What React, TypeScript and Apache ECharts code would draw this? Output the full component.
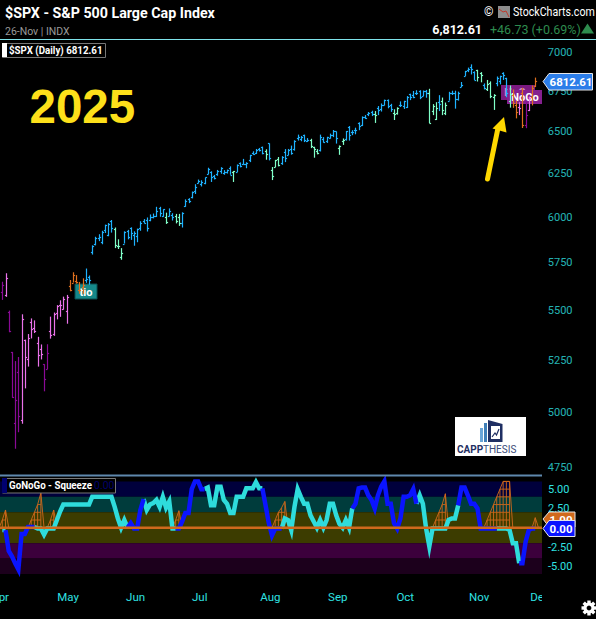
import React, { useEffect, useRef } from "react";
import * as echarts from "echarts";

// [open, high, low, close] per trading day, 1 Apr to 26 Nov
const ohlcBars: number[][] = [
[5597,5650,5555,5633],[5581,5695,5571,5671],[5492,5500,5390,5397],[5292,5292,5070,5074],[4953,5247,4835,5062],
[5193,5267,4910,4983],[4965,5481,4949,5457],[5353,5353,5115,5268],[5255,5381,5220,5363],[5442,5460,5359,5406],
[5411,5450,5386,5396],[5335,5367,5220,5276],[5305,5329,5255,5283],[5232,5232,5101,5158],[5207,5330,5207,5287],
[5395,5469,5358,5376],[5381,5490,5372,5484],[5489,5528,5455,5525],[5529,5553,5468,5529],[5508,5572,5505,5561],
[5499,5581,5433,5569],[5625,5659,5600,5604],[5645,5700,5646,5686],[5655,5685,5640,5650],[5607,5649,5587,5607],
[5620,5668,5586,5631],[5660,5720,5644,5663],[5675,5683,5634,5660],[5808,5845,5795,5844],[5851,5892,5845,5886],
[5887,5906,5868,5892],[5866,5925,5851,5917],[5930,5959,5913,5958],[5902,5968,5895,5963],[5981,5985,5915,5940],
[5935,5943,5830,5845],[5842,5878,5825,5842],[5782,5830,5767,5802],[5855,5922,5855,5921],[5925,5930,5878,5888],
[5940,5944,5875,5912],[5903,5922,5843,5912],[5897,5937,5862,5935],[5938,5978,5925,5970],[5978,5990,5966,5970],
[5985,5999,5921,5939],[5987,6016,5978,6000],[6004,6021,5994,6005],[6009,6059,6002,6038],[6050,6059,6003,6022],
[6009,6045,6003,6045],[6000,6026,5963,5976],[6005,6050,6004,6033],[6012,6023,5982,6003],[6006,6019,5966,5980],
[6004,6019,5952,5967],[5970,6028,5943,6025],[6061,6101,6059,6092],[6104,6108,6080,6092],[6112,6146,6107,6141],
[6150,6188,6132,6173],[6193,6215,6193,6205],[6187,6211,6175,6198],[6193,6227,6188,6227],[6246,6284,6246,6279],
[6259,6263,6201,6229],[6233,6242,6216,6225],[6248,6271,6237,6263],[6263,6287,6249,6280],[6256,6270,6243,6259],
[6259,6273,6250,6268],[6285,6292,6243,6243],[6260,6265,6201,6263],[6260,6303,6259,6297],[6310,6315,6286,6296],
[6305,6336,6303,6305],[6307,6316,6281,6309],[6327,6360,6317,6358],[6368,6381,6360,6363],[6370,6395,6365,6388],
[6397,6401,6380,6389],[6409,6409,6363,6370],[6381,6393,6331,6362],[6428,6428,6327,6339],[6271,6288,6212,6238],
[6287,6330,6287,6330],[6337,6347,6292,6299],[6309,6352,6301,6345],[6374,6394,6317,6340],[6358,6395,6358,6389],
[6394,6415,6361,6373],[6397,6447,6385,6445],[6461,6481,6445,6466],[6453,6473,6441,6468],[6478,6481,6436,6449],
[6445,6460,6437,6449],[6446,6456,6400,6411],[6408,6408,6343,6395],[6380,6394,6363,6370],[6388,6481,6380,6466],
[6457,6466,6433,6439],[6441,6468,6431,6465],[6461,6487,6457,6481],[6481,6509,6466,6501],[6500,6500,6427,6460],
[6401,6416,6360,6415],[6445,6458,6419,6448],[6456,6503,6445,6502],[6530,6533,6445,6481],[6499,6508,6478,6495],
[6508,6523,6483,6512],[6550,6556,6508,6532],[6538,6592,6533,6587],[6588,6600,6577,6584],[6604,6619,6594,6615],
[6620,6627,6594,6606],[6609,6625,6552,6600],[6641,6656,6600,6631],[6636,6672,6622,6664],[6660,6696,6660,6693],
[6692,6697,6642,6656],[6665,6670,6620,6637],[6610,6636,6570,6604],[6616,6648,6603,6643],[6661,6685,6650,6661],
[6658,6689,6638,6688],[6650,6718,6644,6711],[6732,6733,6693,6715],[6723,6750,6705,6715],[6735,6755,6725,6740],
[6751,6755,6699,6714],[6721,6753,6718,6753],[6751,6757,6708,6735],[6736,6764,6550,6552],[6625,6668,6600,6654],
[6578,6680,6570,6644],[6682,6724,6625,6671],[6686,6709,6600,6629],[6616,6678,6600,6664],[6690,6745,6690,6735],
[6736,6752,6725,6735],[6740,6752,6640,6699],[6698,6746,6690,6738],[6775,6807,6775,6791],[6845,6878,6845,6875],
[6884,6899,6870,6890],[6904,6920,6855,6890],[6870,6875,6820,6822],[6883,6885,6810,6840],[6865,6870,6805,6851],
[6790,6798,6760,6771],[6765,6820,6750,6796],[6800,6811,6705,6720],[6710,6730,6632,6728],[6800,6842,6780,6832],
[6815,6847,6792,6846],[6865,6869,6820,6850],[6834,6834,6711,6737],[6690,6785,6646,6734],[6725,6760,6645,6672],
[6660,6690,6580,6617],[6650,6680,6600,6642],[6740,6770,6521,6538],[6540,6680,6520,6602],[6630,6715,6625,6705],
[6715,6785,6660,6766],[6780,6835,6775,6812],
];

const barStateRuns: [string, number][] = [
["D",1],["P",1],["D",4],["P",7],["D",2],["P",6],["O",5],["B",9],["M",3],["B",13],["M",1],["B",2],["M",2],["B",16],
["M",1],["B",9],["M",1],["B",1],["M",3],["B",9],["M",3],["B",6],["M",2],["B",9],["M",1],["B",5],["M",2],["B",9],
["M",3],["B",1],["M",2],["B",9],["M",2],["B",1],["M",3],["B",4],["M",1],["O",2],["P",1],["O",1],["D",1],["P",1],["O",2],
];

const oscillator: number[] = [
-.3,-.3,-3,-3.7,-4.6,-5.4,-.8,-.8,.1,.1,.1,-.1,-.1,-.9,-.1,-.1,-.1,1,2.1,3,
3,3,3,3,3,3,3,3,4,4,4,4,4,4,4,2.7,1.2,0,1,0,
.6,-.1,-.1,2.3,3.7,2.3,3,3.2,3.6,2.7,4,2.6,3.4,-.1,-.1,-.1,.8,1.9,1.9,5,
6,6,5,5,5.2,2.9,2.9,5.3,5.3,3.6,3.1,1.9,1.9,4,4,4,5.1,5.1,5.1,5.9,
5.1,5.1,2.9,.6,-1,-.1,-.1,-.1,1.2,1,-.3,2.7,5,4,3.1,3.1,1.6,.8,0,1,
0,1,3.1,3.1,1.6,.5,0,1,0,2.5,3.1,5.1,5.2,5.2,4.2,3.6,2.5,4.2,5.3,6,
3.1,3.1,.6,-.1,1.2,4,4,4.2,5,3.1,4.2,3.1,-.1,-2.4,-.1,-.1,-.1,-.1,-.1,1,
1.2,1.2,2.9,5.2,5.2,4.2,3.1,3.1,2.5,-.1,-.1,-.1,-.1,-.1,-.1,-.1,-.1,-.1,-.3,-2,
-2,-4.6,-4.6,-1.8,-.3,-.1,-.1,
];

const oscStateRuns: [string, number][] = [
["A",2],["B",9],["A",29],["B",5],["A",10],["B",9],["A",18],["B",6],["A",22],["B",20],["A",13],["B",12],["A",7],["B",5],
];

// [bar index, squeeze level]
const squeezeLevels: number[][] = [
[0,1],[1,2.3],[9,1],[10,2],[11,3],[12,4.5],[15,1],[16,2.3],[54,1],[55,2.2],[85,1],[86,2],[87,2.6],[88,3.4],
[135,1],[136,2],[137,3],[138,4.4],[151,1],[152,2],[153,3],[154,4],[155,5],[156,6],[157,6],[158,6],[166,1.3],
];

const priceTicks = [7000, 6750, 6500, 6250, 6000, 5750, 5500, 5250, 5000, 4750];
const oscTicks = [5, 2.5, -2.5, -5];
const monthNames = ["Apr", "May", "Jun", "Jul", "Aug", "Sep", "Oct", "Nov", "Dec"];
const monthPositions = [-0.7, 20.5, 41.5, 61.5, 83.5, 104.5, 125.5, 148.5, 167.5];
const bandEdges = [6, 4, 2, 0, -2, -4, -6];
const bandColors = ["#00003c", "#003c3c", "#3c3c00", "#3c3c00", "#3c003c", "#1c001c"];

const expand = (runs: [string, number][]) => runs.flatMap(([s, n]) => Array(n).fill(s) as string[]);
const barStates = expand(barStateRuns);
const oscStates = expand(oscStateRuns);
const squeezeMap = new Map(squeezeLevels.map(([i, s]) => [i, s]));
const sq = (i: number) => squeezeMap.get(i) ?? 0;

const barColors: Record<string, string> = { D: "#8a0a96", P: "#ea72ea", O: "#e0701e", B: "#1fb2ff", M: "#80ffc8" };
const AQUA = "#2edcdc";
const BLUE = "#0a14ff";
const SQ = "#d0691c";
const TICK = "#2fe2e2";
const XMIN = -0.72;
const XMAX = 168.1;
const FONT = "Roboto, sans-serif";

function renderOhlc(_: any, api: any) {
  const i = api.value(0);
  const col = barColors[barStates[i]];
  const snap = (v: number) => Math.round(v) + 0.5;
  const [x] = api.coord([i, api.value(2)]);
  const px = snap(x);
  const yH = api.coord([i, api.value(2)])[1];
  const yL = api.coord([i, api.value(3)])[1];
  const yO = snap(api.coord([i, api.value(1)])[1]);
  const yC = snap(api.coord([i, api.value(4)])[1]);
  const st = { stroke: col, lineWidth: 1.2 };
  return {
    type: "group",
    children: [
      { type: "line", shape: { x1: px, y1: yH, x2: px, y2: yL }, style: st },
      { type: "line", shape: { x1: px - 1.6, y1: yO, x2: px, y2: yO }, style: st },
      { type: "line", shape: { x1: px, y1: yC, x2: px + 1.6, y2: yC }, style: st },
    ],
  };
}

function renderSqueeze(_: any, api: any) {
  const i = api.value(0);
  const s = api.value(1);
  const st = { stroke: SQ, lineWidth: 0.9 };
  const p = (a: number, b: number) => api.coord([a, b]);
  const seg = (a: number[], b: number[]) => ({ type: "line", shape: { x1: a[0], y1: a[1], x2: b[0], y2: b[1] }, style: st });
  const kids: any[] = [seg(p(i, 0), p(i, s)), seg(p(i, s), p(i + 1, sq(i + 1)))];
  if (sq(i - 1) === 0) kids.push(seg(p(i - 1, 0), p(i, s)));
  const top = Math.floor(Math.min(s, sq(i + 1)));
  for (let l = 1; l <= top; l++) kids.push(seg(p(i, l), p(i + 1, l)));
  return { type: "group", children: kids };
}

const oscPart = (state: string) =>
  oscillator.map((v, i) =>
    oscStates[i] === state || oscStates[i + 1] === state ? [i, v] : [i, null]
  );

const txt = (x: number, y: number, text: string, fill: string, font: string, align = "left", z = 20, scaleX = 1) => ({
  type: "text",
  x,
  y,
  z,
  scaleX,
  silent: true,
  style: { text, fill, font, textAlign: align, textVerticalAlign: "middle" },
});

function buildGraphic() {
  const gearTeeth = [0, 45, 90, 135, 180, 225, 270, 315].map((d) => ({
    type: "rect",
    x: 589,
    y: 608,
    rotation: (d * Math.PI) / 180,
    z: 20,
    shape: { x: -1.7, y: -7.5, width: 3.4, height: 4 },
    style: { fill: "#fff" },
  }));
  return [
    // header
    txt(5, 12.5, "$SPX - S&P 500 Large Cap Index", "#fff", `700 15.5px ${FONT}`, "left", 20, 0.92),
    txt(5, 31, "26-Nov | INDX", "#9a9a9a", `400 10.5px ${FONT}`),
    { type: "rect", z: 20, shape: { x: 0, y: 39, width: 596, height: 1 }, style: { fill: "#7fe3ea" } },
    { type: "rect", z: 20, shape: { x: 2.5, y: 43.5, width: 103, height: 14 }, style: { fill: "#000", stroke: "#777", lineWidth: 1 } },
    { type: "rect", z: 20, shape: { x: 2, y: 43, width: 5, height: 14 }, style: { fill: "#fff" } },
    txt(9, 50.5, "$SPX (Daily) 6812.61", "#fff", `700 10.5px ${FONT}`, "left", 20, 0.93),
    txt(484, 12, "©", "#fff", `400 12px ${FONT}`),
    { type: "rect", z: 20, shape: { x: 498, y: 6, width: 12, height: 12 }, style: { fill: "#8d8d8d" } },
    { type: "polyline", z: 21, shape: { points: [[499, 9], [503, 12], [506, 11], [509, 17]] }, style: { stroke: "#c0392b", fill: "none", lineWidth: 1 } },
    txt(513, 12, "StockCharts.com", "#fff", `400 12.5px ${FONT}`, "left", 20, 0.85),
    txt(482, 29, "6,812.61", "#fff", `700 12.5px ${FONT}`, "right"),
    txt(490, 29, "+46.73 (+0.69%)", "#2e8b4e", `400 12.5px ${FONT}`),
    { type: "polygon", z: 20, shape: { points: [[581, 33.5], [594, 33.5], [587.5, 23.5]] }, style: { fill: "#2e8b4e" } },
    // year + arrow
    txt(29.5, 106, "2025", "#fde01a", `900 47.5px "Liberation Sans", sans-serif`),
    { type: "line", z: 20, shape: { x1: 487.5, y1: 179, x2: 498, y2: 128 }, style: { stroke: "#ffd800", lineWidth: 5, lineCap: "round" } },
    { type: "polygon", z: 20, shape: { points: [[504, 117], [492.5, 128.5], [506.5, 132.5]] }, style: { fill: "#ffd800" } },
    // trend labels, under the bars
    { type: "rect", z: 1, shape: { x: 75, y: 284, width: 22, height: 15 }, style: { fill: "#15898a", stroke: "#0b4e50", lineWidth: 1 } },
    txt(86, 292, "tio", "#fff", `700 11px ${FONT}`, "center", 1),
    { type: "rect", z: 1, shape: { x: 501, y: 85, width: 34, height: 15 }, style: { fill: "#7b1a80" } },
    txt(518, 92.5, "NoGo", "#c98ad0", `700 11px ${FONT}`, "center", 1),
    { type: "rect", z: 1, shape: { x: 507, y: 90, width: 35, height: 14 }, style: { fill: "#85208f" } },
    txt(525, 97.5, "NoGo", "#fff", `700 11px ${FONT}`, "center", 1),
    // price badge
    { type: "polygon", z: 22, shape: { points: [[543, 81.5], [549, 73.5], [592.5, 73.5], [592.5, 90], [549, 90]] }, style: { fill: "#2b7de9", stroke: "#e6e6e6", lineWidth: 1 } },
    txt(571, 82, "6812.61", "#fff", `700 11.5px ${FONT}`, "center", 23),
    // logo
    { type: "rect", z: 20, shape: { x: 455, y: 417, width: 71, height: 39 }, style: { fill: "#fff" } },
    { type: "rect", z: 21, shape: { x: 480, y: 428, width: 3, height: 14 }, style: { fill: "#6aa6d8" } },
    { type: "rect", z: 21, shape: { x: 484, y: 423, width: 3, height: 19 }, style: { fill: "#3f7fb8" } },
    { type: "polygon", z: 21, shape: { points: [[488, 420], [502.5, 424], [502.5, 442], [488, 442]] }, style: { fill: "#1f2f63" } },
    { type: "rect", z: 22, shape: { x: 491, y: 426, width: 9, height: 13 }, style: { fill: "#fff" } },
    { type: "polyline", z: 23, shape: { points: [[492, 437], [495, 433], [496.5, 435], [499, 429]] }, style: { stroke: "#1f2f63", fill: "none", lineWidth: 1.2 } },
    txt(457, 449.5, "CAPP", "#1f2f63", `700 10px ${FONT}`),
    txt(483, 449.5, "THESIS", "#3a4a78", `400 10px ${FONT}`),
    // squeeze panel
    { type: "rect", z: 20, shape: { x: 2.5, y: 478.5, width: 113, height: 14.5 }, style: { fill: "#000", stroke: "#777", lineWidth: 1 } },
    { type: "rect", z: 20, shape: { x: 2, y: 478, width: 5, height: 15 }, style: { fill: "#000070" } },
    txt(9, 485.5, "GoNoGo - Squeeze", "#fff", `700 10.5px ${FONT}`, "left", 20, 0.93),
    txt(94, 485.5, "0.00", "#00006a", `400 10.5px ${FONT}`),
    { type: "polygon", z: 22, shape: { points: [[543, 519], [549, 512], [575, 512], [575, 527], [549, 527]] }, style: { fill: SQ, stroke: "#e6e6e6", lineWidth: 1 } },
    txt(561, 519.5, "1.00", "#fff", `700 11.5px ${FONT}`, "center", 22),
    { type: "polygon", z: 23, shape: { points: [[543, 528.5], [549, 520.5], [575, 520.5], [575, 536.5], [549, 536.5]] }, style: { fill: BLUE, stroke: "#e6e6e6", lineWidth: 1 } },
    txt(561, 529, "0.00", "#fff", `700 11.5px ${FONT}`, "center", 24),
    // clips the month label at the edge of the panel
    { type: "rect", z: 20, shape: { x: 542, y: 588, width: 20, height: 18 }, style: { fill: "#000" } },
    // settings gear
    { type: "ring", z: 20, shape: { cx: 589, cy: 608, r: 5.5, r0: 2.4 }, style: { fill: "#fff" } },
    ...gearTeeth,
  ];
}

export default function App() {
  const ref = useRef<HTMLDivElement>(null);
  useEffect(() => {
    if (!ref.current) return;
    const chart = echarts.init(ref.current, undefined, { renderer: "svg" });
    const option: any = {
      animation: false,
      backgroundColor: "#000",
      textStyle: { fontFamily: FONT },
      grid: [
        { left: 0, right: 54, top: 40, height: 435, outerBoundsMode: "none" },
        { left: 0, right: 54, top: 475, height: 107, outerBoundsMode: "none" },
      ],
      xAxis: [
        { type: "value", gridIndex: 0, min: XMIN, max: XMAX, show: false, splitLine: { show: false } },
        {
          type: "value",
          gridIndex: 1,
          min: XMIN,
          max: XMAX,
          axisLine: { show: false },
          axisTick: { show: false },
          splitLine: { show: false },
          axisLabel: {
            customValues: monthPositions,
            color: TICK,
            fontSize: 11.5,
            margin: 9,
            fontFamily: FONT,
            formatter: (v: number) => monthNames[monthPositions.indexOf(v)] ?? "",
          },
        },
      ],
      yAxis: [
        { type: "log", logBase: 10, gridIndex: 0, min: 4718, max: 7079, show: false, splitLine: { show: false } },
        {
          type: "value",
          gridIndex: 1,
          position: "right",
          min: -7.03,
          max: 6.83,
          axisLine: { show: false },
          axisTick: { show: false },
          splitLine: { show: false },
          axisLabel: {
            customValues: oscTicks,
            color: TICK,
            fontSize: 11,
            margin: 6,
            fontFamily: FONT,
            formatter: (v: number) => v.toFixed(2),
          },
        },
      ],
      series: [
        {
          type: "custom",
          name: "$SPX",
          xAxisIndex: 0,
          yAxisIndex: 0,
          clip: true,
          z: 3,
          renderItem: renderOhlc,
          encode: { x: 0, y: [1, 2, 3, 4] },
          data: ohlcBars.map((r, i) => [i, ...r]),
        },
        {
          type: "scatter",
          name: "price ticks",
          xAxisIndex: 0,
          yAxisIndex: 0,
          clip: false,
          symbolSize: 0,
          silent: true,
          z: 5,
          label: {
            show: true,
            position: "right",
            distance: 0,
            color: TICK,
            fontSize: 11,
            fontFamily: FONT,
            formatter: (p: any) => String(p.value[1]),
          },
          data: priceTicks.map((v) => [XMAX + 1.8, v]),
        },
        {
          type: "line",
          name: "bands",
          xAxisIndex: 1,
          yAxisIndex: 1,
          z: 1,
          symbol: "none",
          lineStyle: { width: 0 },
          data: [],
          markArea: {
            silent: true,
            data: bandColors.map((c, i) => [
              { yAxis: bandEdges[i], itemStyle: { color: c, opacity: 1 } },
              { yAxis: bandEdges[i + 1] },
            ]),
          },
        },
        {
          type: "custom",
          name: "squeeze",
          xAxisIndex: 1,
          yAxisIndex: 1,
          clip: true,
          z: 2,
          renderItem: renderSqueeze,
          encode: { x: 0, y: 1 },
          data: squeezeLevels,
        },
        ...[
          ["A", AQUA],
          ["B", BLUE],
        ].map(([s, c]) => ({
          type: "line",
          name: "GoNoGo " + s,
          xAxisIndex: 1,
          yAxisIndex: 1,
          z: 3,
          symbol: "none",
          connectNulls: false,
          clip: true,
          lineStyle: { color: c, width: 4.5, join: "miter", miterLimit: 20, cap: "butt" },
          data: oscPart(s),
        })),
        {
          type: "line",
          name: "zero",
          xAxisIndex: 1,
          yAxisIndex: 1,
          z: 4,
          symbol: "none",
          lineStyle: { color: SQ, width: 2.4 },
          data: [[XMIN, 0], [XMAX, 0]],
        },
        {
          type: "line",
          name: "top",
          xAxisIndex: 1,
          yAxisIndex: 1,
          z: 4,
          symbol: "none",
          lineStyle: { color: "#5f88ad", width: 2 },
          data: [[XMIN, 6.75], [XMAX, 6.75]],
        },
      ],
      graphic: buildGraphic(),
    };
    chart.setOption(option);
    return () => chart.dispose();
  }, []);
  return <div ref={ref} style={{ position: "fixed", left: 0, top: 0, width: 596, height: 619 }} />;
}
